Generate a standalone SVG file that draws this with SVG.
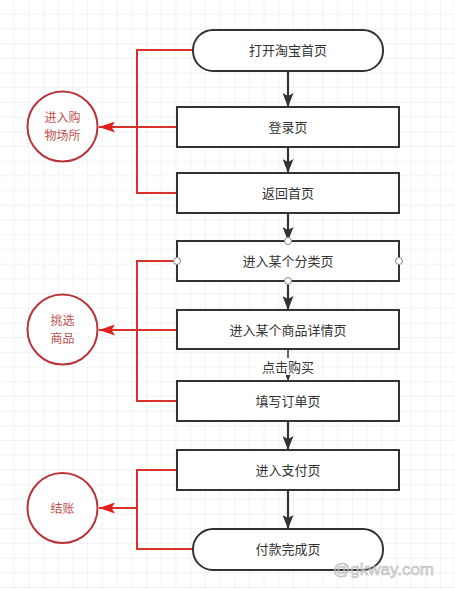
<svg xmlns="http://www.w3.org/2000/svg" width="455" height="589" viewBox="0 0 455 589">
  <defs>
    <pattern id="grid" width="14.7" height="14.7" patternUnits="userSpaceOnUse">
      <path d="M14.7 0 V14.7 M0 14.7 H14.7" fill="none" stroke="#e8e8e8" stroke-width="1"/>
    </pattern>
    <marker id="arrDark" markerWidth="14" markerHeight="11" refX="14" refY="5.5" orient="auto" markerUnits="userSpaceOnUse">
      <path d="M0,0 L14,5.5 L0,11 L3,5.5 z" fill="#333"/>
    </marker>
    <marker id="arrSmall" markerWidth="6" markerHeight="5" refX="6" refY="2.5" orient="auto" markerUnits="userSpaceOnUse">
      <path d="M0,0 L6,2.5 L0,5 z" fill="#333"/>
    </marker>
    <marker id="arrRed" markerWidth="16" markerHeight="11" refX="16" refY="5.5" orient="auto" markerUnits="userSpaceOnUse">
      <path d="M0,0 L16,5.5 L0,11 L3.5,5.5 z" fill="#e0201c"/>
    </marker>
  </defs>
  <style>
    .box { fill: #fff; stroke: #333; stroke-width: 2; }
    .lbl { font-family: "Noto Sans CJK SC", "Liberation Sans", sans-serif; font-size: 13px; fill: #333; text-anchor: middle; }
    .flow { stroke: #333; stroke-width: 2.2; fill: none; }
    .red { stroke: #d9302c; stroke-width: 2; fill: none; }
    .grp { fill: #fff; stroke: #b8343a; stroke-width: 2; }
    .glbl { font-family: "Noto Sans CJK SC", "Liberation Sans", sans-serif; font-size: 12px; fill: #c0504d; text-anchor: middle; }
    .hp { fill: #fff; stroke: #888; stroke-width: 1; }
  </style>

  <rect width="455" height="589" fill="#fff"/>
  <rect width="455" height="589" fill="url(#grid)"/>

  <g id="connectors">
    <!-- main flow -->
    <line class="flow" x1="288" y1="71" x2="288" y2="107" marker-end="url(#arrDark)"/>
    <line class="flow" x1="288" y1="147" x2="288" y2="173" marker-end="url(#arrDark)"/>
    <line class="flow" x1="288" y1="213" x2="288" y2="241" marker-end="url(#arrDark)"/>
    <line class="flow" x1="288" y1="281" x2="288" y2="310" marker-end="url(#arrDark)"/>
    <line x1="288" y1="349" x2="288" y2="381" stroke="#333" stroke-width="1.5" marker-end="url(#arrSmall)"/>
    <line class="flow" x1="288" y1="421" x2="288" y2="450" marker-end="url(#arrDark)"/>
    <line class="flow" x1="288" y1="490" x2="288" y2="529" marker-end="url(#arrDark)"/>
    <!-- label on purchase edge -->
    <rect x="256" y="358" width="64" height="17" fill="#fff"/>
    <text class="lbl" x="288" y="371.5">点击购买</text>

    <!-- stage brackets -->
    <polyline class="red" points="193,50 137,50 137,193 177,193"/>
    <line class="red" x1="177" y1="127" x2="99" y2="127" marker-end="url(#arrRed)"/>

    <polyline class="red" points="177,261 137,261 137,401 177,401"/>
    <line class="red" x1="177" y1="330" x2="99" y2="330" marker-end="url(#arrRed)"/>

    <polyline class="red" points="177,470 137,470 137,549 193,549"/>
    <line class="red" x1="137" y1="508" x2="99" y2="508" marker-end="url(#arrRed)"/>
  </g>

  <g id="open-home">
    <rect class="box" x="193" y="30" width="190" height="41" rx="20" ry="20"/>
    <text class="lbl" x="288" y="55">打开淘宝首页</text>
  </g>
  <g id="login">
    <rect class="box" x="177" y="107" width="222" height="40"/>
    <text class="lbl" x="288" y="132">登录页</text>
  </g>
  <g id="back-home">
    <rect class="box" x="177" y="173" width="222" height="40"/>
    <text class="lbl" x="288" y="198">返回首页</text>
  </g>
  <g id="category">
    <rect class="box" x="177" y="241" width="222" height="40"/>
    <text class="lbl" x="288" y="266">进入某个分类页</text>
    <circle class="hp" cx="288" cy="241" r="3.5"/>
    <circle class="hp" cx="288" cy="281" r="3.5"/>
    <circle class="hp" cx="177" cy="261" r="3.5"/>
    <circle class="hp" cx="399" cy="261" r="3.5"/>
  </g>
  <g id="detail">
    <rect class="box" x="177" y="310" width="222" height="39"/>
    <text class="lbl" x="288" y="334.5">进入某个商品详情页</text>
  </g>
  <g id="order">
    <rect class="box" x="177" y="381" width="222" height="40"/>
    <text class="lbl" x="288" y="406">填写订单页</text>
  </g>
  <g id="pay">
    <rect class="box" x="177" y="450" width="222" height="40"/>
    <text class="lbl" x="288" y="475">进入支付页</text>
  </g>
  <g id="paid">
    <rect class="box" x="193" y="529" width="190" height="41" rx="20" ry="20"/>
    <text class="lbl" x="288" y="554">付款完成页</text>
  </g>

  <g id="stage-enter">
    <circle class="grp" cx="62.5" cy="126.5" r="35"/>
    <text class="glbl" x="62.5" y="122">进入购</text>
    <text class="glbl" x="62.5" y="139.5">物场所</text>
  </g>
  <g id="stage-pick">
    <circle class="grp" cx="62.5" cy="329.5" r="35"/>
    <text class="glbl" x="62.5" y="325">挑选</text>
    <text class="glbl" x="62.5" y="342.5">商品</text>
  </g>
  <g id="stage-checkout">
    <circle class="grp" cx="62.5" cy="508" r="35"/>
    <text class="glbl" x="62.5" y="512.5">结账</text>
  </g>

  <text x="333" y="575" font-family="Liberation Sans, sans-serif" font-size="17" fill="#ddd" stroke="#aaa" stroke-width="0.6" opacity="0.8">@gkway.com</text>
</svg>
